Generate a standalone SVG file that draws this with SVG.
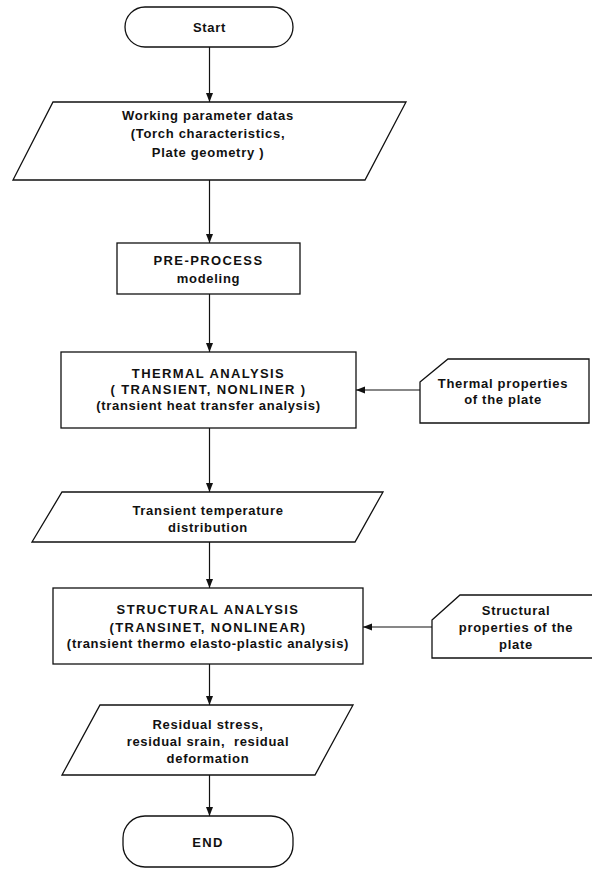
<svg xmlns="http://www.w3.org/2000/svg" width="592" height="869" viewBox="0 0 592 869">
<style>
.s{fill:#fff;stroke:#111;stroke-width:1.3}
.t{font-family:"Liberation Sans",Arial,sans-serif;font-size:13px;font-weight:bold;fill:#111;text-anchor:middle;letter-spacing:0.7px}
.u{letter-spacing:1.4px}
.c{fill:none;stroke:#111;stroke-width:1.2}
</style>
<defs>
<marker id="ah" markerUnits="userSpaceOnUse" markerWidth="10" markerHeight="8" refX="9" refY="4" orient="auto">
<path d="M0,0.5 L9,4 L0,7.5 z" fill="#111"/>
</marker>
</defs>
<rect width="592" height="869" fill="#fff"/>
<g id="connectors">
<line class="c" x1="209.5" y1="47" x2="209.5" y2="102" marker-end="url(#ah)"/>
<line class="c" x1="209.5" y1="180" x2="209.5" y2="243" marker-end="url(#ah)"/>
<line class="c" x1="209.5" y1="294" x2="209.5" y2="352" marker-end="url(#ah)"/>
<line class="c" x1="209.5" y1="428" x2="209.5" y2="492" marker-end="url(#ah)"/>
<line class="c" x1="209.5" y1="542" x2="209.5" y2="588" marker-end="url(#ah)"/>
<line class="c" x1="209.5" y1="664" x2="209.5" y2="705" marker-end="url(#ah)"/>
<line class="c" x1="209.5" y1="775" x2="209.5" y2="816" marker-end="url(#ah)"/>
<line class="c" x1="420" y1="390" x2="356" y2="390" marker-end="url(#ah)"/>
<line class="c" x1="432" y1="627" x2="363" y2="627" marker-end="url(#ah)"/>
</g>
<g id="start">
<rect class="s" x="125" y="7" width="168" height="40" rx="20" ry="20"/>
<text class="t" x="209.5" y="31.5">Start</text>
</g>
<g id="working">
<polygon class="s" points="53,102 406,102 365,180 13,180"/>
<text class="t" x="208" y="119.5">Working parameter datas</text>
<text class="t" x="208" y="137.5">(Torch characteristics,</text>
<text class="t" x="208" y="156.5">Plate geometry )</text>
</g>
<g id="preprocess">
<rect class="s" x="117" y="243" width="183" height="51"/>
<text class="t u" x="208.5" y="264.5">PRE-PROCESS</text>
<text class="t" x="208.5" y="282.5">modeling</text>
</g>
<g id="thermal">
<rect class="s" x="61" y="352" width="295" height="76"/>
<text class="t u" x="208.5" y="377.5">THERMAL ANALYSIS</text>
<text class="t u" x="208.5" y="393.5">( TRANSIENT, NONLINER )</text>
<text class="t" x="208.5" y="409.5">(transient heat transfer analysis)</text>
</g>
<g id="thermalprops">
<polygon class="s" points="420,382 448,359 589,359 589,423 420,423"/>
<text class="t" x="503" y="387.5">Thermal properties</text>
<text class="t" x="503" y="403.5">of the plate</text>
</g>
<g id="transient">
<polygon class="s" points="62,492 383,492 355,542 32,542"/>
<text class="t" x="208" y="514.5">Transient temperature</text>
<text class="t" x="208" y="531.5">distribution</text>
</g>
<g id="structural">
<rect class="s" x="53" y="588" width="310" height="76"/>
<text class="t u" x="208" y="613.5">STRUCTURAL ANALYSIS</text>
<text class="t u" x="208" y="631.5">(TRANSINET, NONLINEAR)</text>
<text class="t" x="208" y="647.5">(transient thermo elasto-plastic analysis)</text>
</g>
<g id="structprops">
<polygon class="s" points="432,620 460,595 594,595 594,658 432,658"/>
<text class="t" x="516" y="614.5">Structural</text>
<text class="t" x="516" y="631.5">properties of the</text>
<text class="t" x="516" y="648.5">plate</text>
</g>
<g id="residual">
<polygon class="s" points="100,705 353,705 315,775 62,775"/>
<text class="t" x="208" y="728.5">Residual stress,</text>
<text class="t" x="208" y="745.5" xml:space="preserve">residual srain,  residual</text>
<text class="t" x="208" y="762.5">deformation</text>
</g>
<g id="end">
<rect class="s" x="123" y="816" width="170" height="51" rx="22" ry="22"/>
<text class="t u" x="208" y="846.5">END</text>
</g>
</svg>
